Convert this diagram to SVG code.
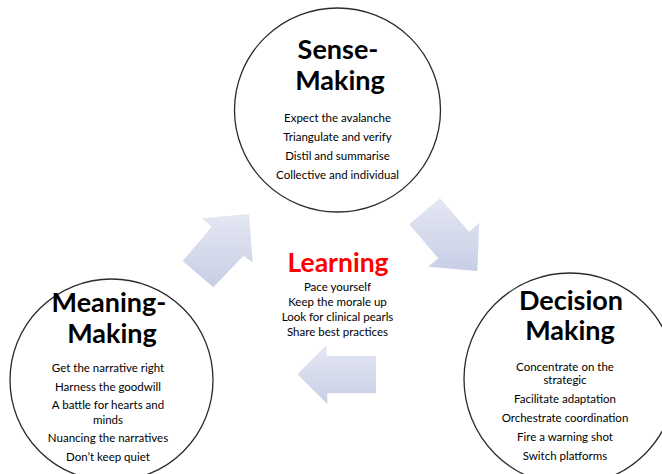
<svg xmlns="http://www.w3.org/2000/svg" width="662" height="474" viewBox="0 0 662 474">
  <defs>
    <linearGradient id="arrowFill" x1="0" y1="0" x2="0" y2="1">
      <stop offset="0" stop-color="#e4e7f3"/>
      <stop offset="1" stop-color="#c8cee5"/>
    </linearGradient>
    <style>
      .ring { fill: #ffffff; stroke: #2b2b2b; stroke-width: 1.3; }
      .title { font-family: Lato, "Open Sans", sans-serif; font-weight: bold; font-size: 27px; fill: #000000; text-anchor: middle; }
      .item { font-family: Lato, "Open Sans", sans-serif; font-size: 11.5px; fill: #000000; text-anchor: middle; }
      .learn { font-family: Lato, "Open Sans", sans-serif; font-weight: bold; font-size: 26.5px; fill: #ff0000; text-anchor: middle; }
      .block { fill: url(#arrowFill); stroke: none; }
    </style>
  </defs>

  <rect width="662" height="474" fill="#ffffff"/>

  <!-- cycle arrows between the three stages -->
  <g id="connectors">
    <polygon class="block" points="249,214 201.7,218.3 211.7,226.7 182.7,261 213.3,287.3 243.3,256 252.7,262.3"/>
    <polygon class="block" points="440,198.3 469,231.7 479.3,222.7 477.3,271 428.3,266.7 438.3,258.3 409.3,224.3"/>
    <polygon class="block" points="297.3,374.3 326.7,345 326.7,356 376,356 376,393.3 327.3,393.3 327.3,404"/>
  </g>

  <g id="sense-making">
    <ellipse class="ring" cx="337.5" cy="110" rx="103" ry="102"/>
    <text class="title" x="338" y="59">Sense-</text>
    <text class="title" x="340" y="90">Making</text>
    <text class="item" x="337.5" y="122">Expect the avalanche</text>
    <text class="item" x="337.5" y="141">Triangulate and verify</text>
    <text class="item" x="337.5" y="160">Distil and summarise</text>
    <text class="item" x="337.5" y="179">Collective and individual</text>
  </g>

  <g id="meaning-making">
    <ellipse class="ring" cx="111.5" cy="380" rx="101.5" ry="101"/>
    <text class="title" x="109" y="312">Meaning-</text>
    <text class="title" x="112" y="343">Making</text>
    <text class="item" x="108" y="372">Get the narrative right</text>
    <text class="item" x="108" y="390.5">Harness the goodwill</text>
    <text class="item" x="108" y="409">A battle for hearts and</text>
    <text class="item" x="108" y="423.5">minds</text>
    <text class="item" x="108" y="442">Nuancing the narratives</text>
    <text class="item" x="108" y="460.5">Don’t keep quiet</text>
  </g>

  <g id="decision-making">
    <ellipse class="ring" cx="570" cy="379" rx="106" ry="106"/>
    <text class="title" x="571" y="310">Decision</text>
    <text class="title" x="570" y="340">Making</text>
    <text class="item" x="565" y="371">Concentrate on the</text>
    <text class="item" x="565" y="384">strategic</text>
    <text class="item" x="565" y="403">Facilitate adaptation</text>
    <text class="item" x="565" y="422">Orchestrate coordination</text>
    <text class="item" x="565" y="441">Fire a warning shot</text>
    <text class="item" x="565" y="460">Switch platforms</text>
  </g>

  <g id="learning">
    <text class="learn" x="338" y="272">Learning</text>
    <text class="item" x="337.5" y="291">Pace yourself</text>
    <text class="item" x="337.5" y="306">Keep the morale up</text>
    <text class="item" x="337.5" y="321">Look for clinical pearls</text>
    <text class="item" x="337.5" y="336">Share best practices</text>
  </g>
</svg>
